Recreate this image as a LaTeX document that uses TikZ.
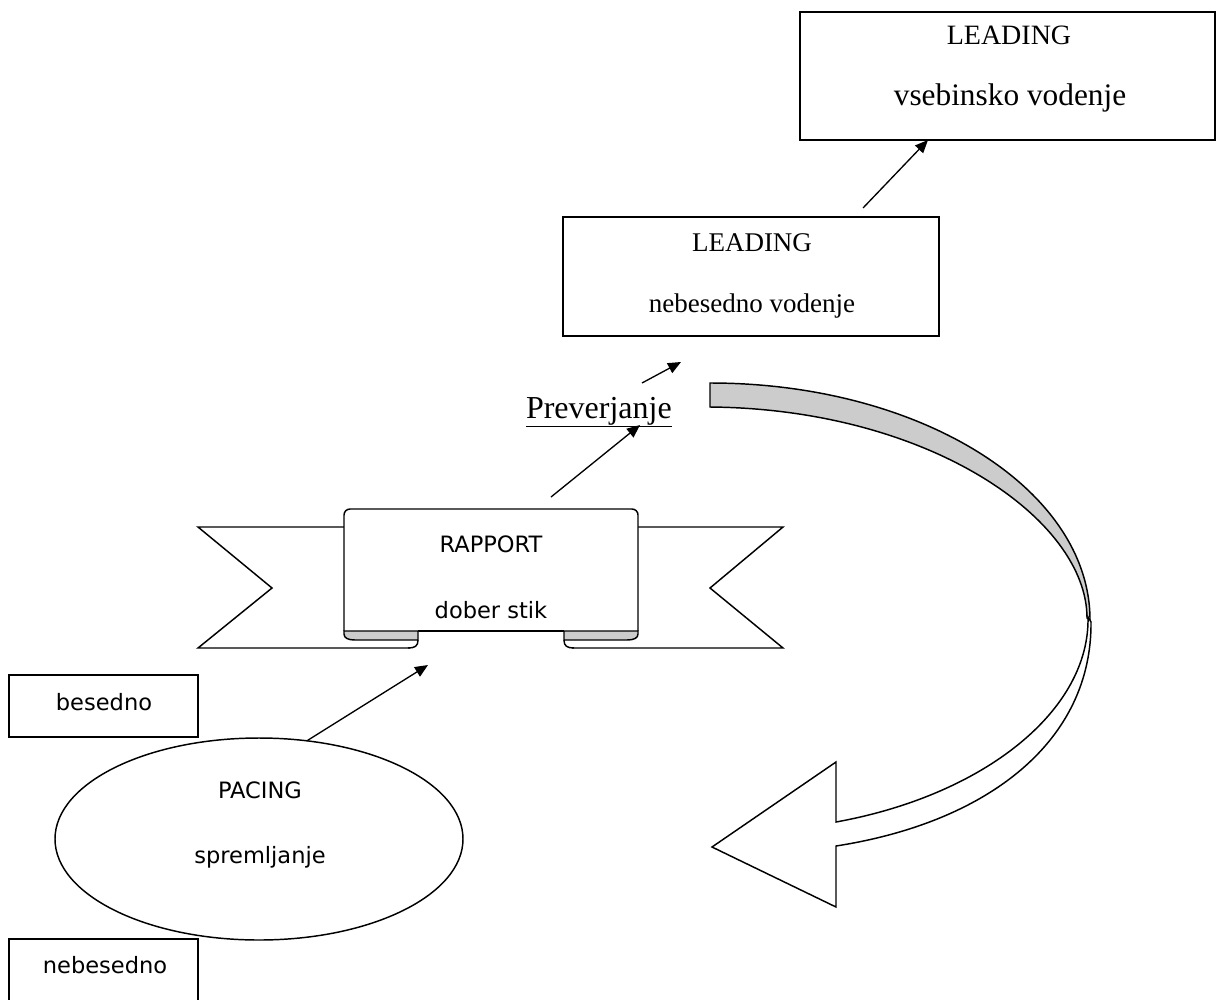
\documentclass[tikz,border=0pt]{standalone}
\usepackage{fontspec}
\setmainfont{Liberation Serif}
\newfontfamily\sansf{DejaVu Sans}
\usetikzlibrary{arrows.meta,shapes.geometric}
\begin{document}
\begin{tikzpicture}[x=0.75pt,y=-0.75pt,
  line width=1.1pt,
  box/.style={draw=black, fill=white, rectangle, inner sep=0pt, outer sep=0pt, anchor=north west},
  lbl/.style={inner sep=0pt, outer sep=0pt, anchor=base},
  serifmid/.style={font=\fontsize{20.25}{24}\selectfont},
  seriftop/.style={font=\fontsize{21}{24}\selectfont},
  seriftopb/.style={font=\fontsize{23.5}{27}\selectfont},
  sanslbl/.style={font=\sansf\fontsize{16.9}{20}\selectfont},
  arr/.style={-{Triangle[length=9.75pt,width=8.25pt]}, line width=1pt},
  greyband/.style={draw=black, fill=black!20, line join=miter},
  whiteband/.style={draw=black, fill=white, line join=miter},
]
\useasboundingbox (0,0) rectangle (1216,999);
\clip (0,0) rectangle (1216,999);

% ---- boxes ----
\node[box, minimum width=311.25pt, minimum height=96pt] (topbox) at (800,12) {};
\node[lbl, seriftop] (toptitle) at (1009,45) {LEADING};
\node[lbl, seriftopb] (topsub) at (1010,105) {vsebinsko vodenje};

\node[box, minimum width=282pt, minimum height=89.25pt] (midbox) at (563,217) {};
\node[lbl, serifmid] (midtitle) at (752,251) {LEADING};
\node[lbl, serifmid] (midsub) at (752,312) {nebesedno vodenje};

\node[lbl, anchor=base west, font=\fontsize{24}{27}\selectfont] (prev) at (526,418) {\underline{Preverjanje}};

\node[box, minimum width=141.75pt, minimum height=46.5pt] (besbox) at (9,675) {};
\node[lbl, sanslbl] (bestext) at (104,710) {besedno};
\node[box, minimum width=141.75pt, minimum height=60pt] (nebbox) at (9,939) {};
\node[lbl, sanslbl] (nebtext) at (105,973) {nebesedno};

\node[draw=black, ellipse, inner sep=0pt, outer sep=0pt, minimum width=306pt, minimum height=151.5pt] (pacing) at (259,839) {};
\node[lbl, sanslbl] (pactitle) at (260,798) {PACING};
\node[lbl, sanslbl] (pacsub) at (260,863) {spremljanje};

% ---- ribbon ----
\fill[white] (344,527) -- (198,527) -- (272,588) -- (198,648) -- (410,648) -- (410,527) -- cycle;
\draw[line join=miter] (344,527) -- (198,527) -- (272,588) -- (198,648) -- (410,648);
\fill[white] (638,527) -- (783,527) -- (710,588) -- (783,648) -- (572,648) -- (572,527) -- cycle;
\draw[line join=miter] (638,527) -- (783,527) -- (710,588) -- (783,648) -- (572,648);
\filldraw[fill=white, rounded corners=4.5pt] (344,631) -- (344,509) -- (638,509) -- (638,631);
\draw (418,631) -- (564,631);
\filldraw[greyband] (344,631) -- (344,634) .. controls (344,638) and (348,640) .. (355,640) -- (418,640) -- (418,631) -- cycle;
\draw (418,640) .. controls (418,646) and (415,648) .. (408,648);
\filldraw[greyband] (638,631) -- (638,634) .. controls (638,638) and (634,640) .. (627,640) -- (564,640) -- (564,631) -- cycle;
\draw (564,640) .. controls (564,646) and (567,648) .. (574,648);
\node[lbl, sanslbl] (raptitle) at (491,552) {RAPPORT};
\node[lbl, sanslbl] (rapsub) at (491,618) {dober stik};

% ---- curved arrow ----
\filldraw[greyband] (710,383) .. controls (919.9,383) and (1090,489) .. (1090,620)
  -- (1087,618) .. controls (1087,520) and (930,409) .. (710,407) -- cycle;
\filldraw[whiteband] (1088,617) .. controls (1090,710) and (985,795) .. (836,822)
  -- (836,762) -- (712,847) -- (836,907) -- (836,846)
  .. controls (990,822) and (1092,740) .. (1091,622) -- cycle;

% ---- straight arrows ----
\coordinate (a1e) at (428,665);
\coordinate (a2s) at (551,497);
\coordinate (a2e) at (640,425);
\coordinate (a3s) at (642,383);
\coordinate (a3e) at (681,362);
\coordinate (a4s) at (863,208);
\coordinate (a4e) at (928,140);
\draw[arr] (pacing.64) -- (a1e);
\draw[arr] (a2s) -- (a2e);
\draw[arr] (a3s) -- (a3e);
\draw[arr] (a4s) -- (a4e);
\end{tikzpicture}
\end{document}
